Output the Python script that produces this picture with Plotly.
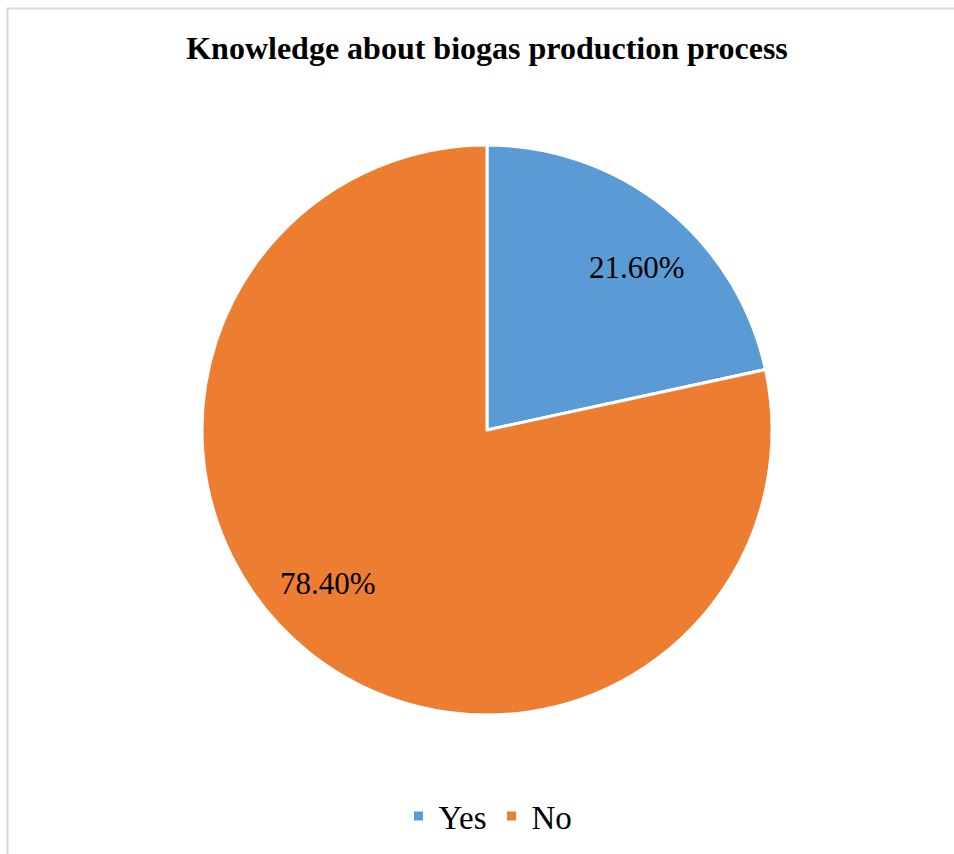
import math
import plotly.graph_objects as go

# Survey responses: knowledge about the biogas production process
labels = ["Yes", "No"]
shares = [21.6, 78.4]
colors = ["#5B9BD5", "#ED7D31"]
text_labels = [f"{v:.2f}%" for v in shares]

W, H = 954, 854
cx, cy, r = 487, 430, 285

# label placement: fraction of radius and angular nudge (degrees, clockwise)
label_radius = 0.776
label_nudge = [4, 7]

fig = go.Figure(
    go.Pie(
        labels=labels,
        values=shares,
        textinfo="none",
        sort=False,
        direction="clockwise",
        rotation=0,
        marker=dict(colors=colors, line=dict(color="white", width=3)),
        domain=dict(
            x=[(cx - r) / W, (cx + r) / W],
            y=[1 - (cy + r) / H, 1 - (cy - r) / H],
        ),
        hoverinfo="label+percent",
    )
)

# value labels placed at each slice's mid-angle
total = sum(shares)
start = 0.0
annotations = []
for v, t, nudge in zip(shares, text_labels, label_nudge):
    mid = (start + v / 2) / total * 360 + nudge
    start += v
    px = cx + label_radius * r * math.sin(math.radians(mid))
    py = cy - label_radius * r * math.cos(math.radians(mid))
    annotations.append(
        dict(
            x=px / W,
            y=1 - py / H,
            xref="paper",
            yref="paper",
            text=t,
            showarrow=False,
            xanchor="center",
            yanchor="middle",
            font=dict(family="Liberation Serif", size=31, color="black"),
        )
    )

fig.update_layout(
    width=W,
    height=H,
    margin=dict(l=0, r=0, t=0, b=0),
    paper_bgcolor="white",
    plot_bgcolor="white",
    title=dict(
        text="<b>Knowledge about biogas production process</b>",
        x=487 / W,
        xanchor="center",
        y=1 - 48 / H,
        yanchor="middle",
        font=dict(family="Liberation Serif", size=32, color="black"),
    ),
    annotations=annotations,
    showlegend=True,
    legend=dict(
        orientation="h",
        x=488 / W,
        xanchor="center",
        y=1 - 816 / H,
        yanchor="middle",
        font=dict(family="Liberation Serif", size=33, color="black"),
        itemwidth=30,
    ),
    shapes=[
        dict(
            type="rect",
            xref="paper",
            yref="paper",
            x0=7.5 / W,
            x1=1.05,
            y0=-0.05,
            y1=1 - 8.5 / H,
            line=dict(color="#D9D9D9", width=2),
            fillcolor="rgba(0,0,0,0)",
        )
    ],
)

fig.write_html("out.html")
